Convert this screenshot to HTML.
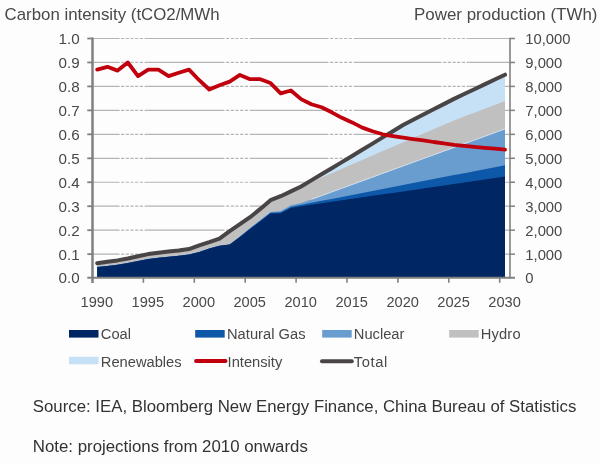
<!DOCTYPE html>
<html lang="en"><head><meta charset="utf-8"><title>Carbon intensity and power production</title>
<style>html,body{margin:0;padding:0;background:#fdfdfd}svg{display:block}</style></head>
<body>
<svg width="600" height="464" viewBox="0 0 600 464">
<defs><filter id="soft" x="0" y="0" width="600" height="464" filterUnits="userSpaceOnUse"><feGaussianBlur stdDeviation="0.45"/></filter></defs>
<rect width="600" height="464" fill="#fdfdfd"/>
<g filter="url(#soft)">
<line x1="93" x2="510" y1="254.14" y2="254.14" stroke="#b4b4b4" stroke-width="1.2" stroke-dasharray="26.5 1.6 3.1 1.6 3.1 1.6 3.1 1.6 3.1 1.6 3.1 1.6 79.9 1.6 3.1 1.6 3.1 1.6 3.1 1.6 3.1 1.6 3.1 1.6 78.9 1.6 3.1 1.6 3.1 1.6 3.1 1.6 3.1 1.6 3.1 1.6 87.9 1.6 3.1 1.6 3.1 1.6 3.1 1.6 3.1 1.6 3.1 1.6 43.4 0.0"/>
<line x1="93" x2="510" y1="230.18" y2="230.18" stroke="#b4b4b4" stroke-width="1.2" stroke-dasharray="26.5 1.6 3.1 1.6 3.1 1.6 3.1 1.6 3.1 1.6 3.1 1.6 79.9 1.6 3.1 1.6 3.1 1.6 3.1 1.6 3.1 1.6 3.1 1.6 78.9 1.6 3.1 1.6 3.1 1.6 3.1 1.6 3.1 1.6 3.1 1.6 87.9 1.6 3.1 1.6 3.1 1.6 3.1 1.6 3.1 1.6 3.1 1.6 43.4 0.0"/>
<line x1="93" x2="510" y1="206.22" y2="206.22" stroke="#b4b4b4" stroke-width="1.2" stroke-dasharray="26.5 1.6 3.1 1.6 3.1 1.6 3.1 1.6 3.1 1.6 3.1 1.6 79.9 1.6 3.1 1.6 3.1 1.6 3.1 1.6 3.1 1.6 3.1 1.6 78.9 1.6 3.1 1.6 3.1 1.6 3.1 1.6 3.1 1.6 3.1 1.6 87.9 1.6 3.1 1.6 3.1 1.6 3.1 1.6 3.1 1.6 3.1 1.6 43.4 0.0"/>
<line x1="93" x2="510" y1="182.26" y2="182.26" stroke="#b4b4b4" stroke-width="1.2" stroke-dasharray="26.5 1.6 3.1 1.6 3.1 1.6 3.1 1.6 3.1 1.6 3.1 1.6 79.9 1.6 3.1 1.6 3.1 1.6 3.1 1.6 3.1 1.6 3.1 1.6 78.9 1.6 3.1 1.6 3.1 1.6 3.1 1.6 3.1 1.6 3.1 1.6 87.9 1.6 3.1 1.6 3.1 1.6 3.1 1.6 3.1 1.6 3.1 1.6 43.4 0.0"/>
<line x1="93" x2="510" y1="158.30" y2="158.30" stroke="#b4b4b4" stroke-width="1.2" stroke-dasharray="26.5 1.6 3.1 1.6 3.1 1.6 3.1 1.6 3.1 1.6 3.1 1.6 79.9 1.6 3.1 1.6 3.1 1.6 3.1 1.6 3.1 1.6 3.1 1.6 78.9 1.6 3.1 1.6 3.1 1.6 3.1 1.6 3.1 1.6 3.1 1.6 87.9 1.6 3.1 1.6 3.1 1.6 3.1 1.6 3.1 1.6 3.1 1.6 43.4 0.0"/>
<line x1="93" x2="510" y1="134.34" y2="134.34" stroke="#b4b4b4" stroke-width="1.2" stroke-dasharray="26.5 1.6 3.1 1.6 3.1 1.6 3.1 1.6 3.1 1.6 3.1 1.6 79.9 1.6 3.1 1.6 3.1 1.6 3.1 1.6 3.1 1.6 3.1 1.6 78.9 1.6 3.1 1.6 3.1 1.6 3.1 1.6 3.1 1.6 3.1 1.6 87.9 1.6 3.1 1.6 3.1 1.6 3.1 1.6 3.1 1.6 3.1 1.6 43.4 0.0"/>
<line x1="93" x2="510" y1="110.38" y2="110.38" stroke="#b4b4b4" stroke-width="1.2" stroke-dasharray="26.5 1.6 3.1 1.6 3.1 1.6 3.1 1.6 3.1 1.6 3.1 1.6 79.9 1.6 3.1 1.6 3.1 1.6 3.1 1.6 3.1 1.6 3.1 1.6 78.9 1.6 3.1 1.6 3.1 1.6 3.1 1.6 3.1 1.6 3.1 1.6 87.9 1.6 3.1 1.6 3.1 1.6 3.1 1.6 3.1 1.6 3.1 1.6 43.4 0.0"/>
<line x1="93" x2="510" y1="86.42" y2="86.42" stroke="#b4b4b4" stroke-width="1.2" stroke-dasharray="26.5 1.6 3.1 1.6 3.1 1.6 3.1 1.6 3.1 1.6 3.1 1.6 79.9 1.6 3.1 1.6 3.1 1.6 3.1 1.6 3.1 1.6 3.1 1.6 78.9 1.6 3.1 1.6 3.1 1.6 3.1 1.6 3.1 1.6 3.1 1.6 87.9 1.6 3.1 1.6 3.1 1.6 3.1 1.6 3.1 1.6 3.1 1.6 43.4 0.0"/>
<line x1="93" x2="510" y1="62.46" y2="62.46" stroke="#b4b4b4" stroke-width="1.2" stroke-dasharray="26.5 1.6 3.1 1.6 3.1 1.6 3.1 1.6 3.1 1.6 3.1 1.6 79.9 1.6 3.1 1.6 3.1 1.6 3.1 1.6 3.1 1.6 3.1 1.6 78.9 1.6 3.1 1.6 3.1 1.6 3.1 1.6 3.1 1.6 3.1 1.6 87.9 1.6 3.1 1.6 3.1 1.6 3.1 1.6 3.1 1.6 3.1 1.6 43.4 0.0"/>
<line x1="93" x2="510" y1="38.50" y2="38.50" stroke="#b4b4b4" stroke-width="1.2" stroke-dasharray="26.5 1.6 3.1 1.6 3.1 1.6 3.1 1.6 3.1 1.6 3.1 1.6 79.9 1.6 3.1 1.6 3.1 1.6 3.1 1.6 3.1 1.6 3.1 1.6 78.9 1.6 3.1 1.6 3.1 1.6 3.1 1.6 3.1 1.6 3.1 1.6 87.9 1.6 3.1 1.6 3.1 1.6 3.1 1.6 3.1 1.6 3.1 1.6 43.4 0.0"/>
<path d="M97.2,278.1 L97.2,263.2 L107.4,261.8 L117.6,260.4 L127.8,258.5 L138.0,256.3 L148.2,254.1 L158.4,252.7 L168.6,251.5 L178.8,250.5 L189.0,249.1 L199.2,245.3 L209.3,242.2 L219.5,238.6 L229.7,231.1 L239.9,224.2 L250.1,217.2 L260.3,208.9 L270.5,200.2 L280.7,196.2 L290.9,191.4 L301.1,186.5 L311.3,180.4 L321.5,174.3 L331.7,168.2 L341.9,162.1 L352.1,156.0 L362.3,149.8 L372.5,143.6 L382.7,137.4 L392.9,131.2 L403.1,125.0 L413.2,119.8 L423.4,114.5 L433.6,109.3 L443.8,104.1 L454.0,98.9 L464.2,94.0 L474.4,89.2 L484.6,84.4 L494.8,79.5 L505.0,74.7 L505.0,278.1Z" fill="#c6e0f5"/>
<path d="M97.2,278.1 L97.2,263.2 L107.4,261.8 L117.6,260.4 L127.8,258.5 L138.0,256.3 L148.2,254.1 L158.4,252.7 L168.6,251.5 L178.8,250.5 L189.0,249.1 L199.2,245.3 L209.3,242.2 L219.5,238.6 L229.7,231.1 L239.9,224.2 L250.1,217.2 L260.3,208.9 L270.5,200.2 L280.7,196.2 L290.9,191.4 L301.1,186.5 L311.3,182.0 L321.5,177.6 L331.7,173.2 L341.9,168.7 L352.1,164.3 L362.3,159.9 L372.5,155.5 L382.7,151.1 L392.9,146.7 L403.1,142.2 L413.2,137.9 L423.4,133.5 L433.6,129.2 L443.8,124.8 L454.0,120.4 L464.2,116.6 L474.4,112.7 L484.6,108.8 L494.8,104.9 L505.0,101.0 L505.0,278.1Z" fill="#c0c0c0"/>
<path d="M97.2,278.1 L97.2,267.1 L107.4,265.9 L117.6,264.7 L127.8,263.0 L138.0,261.1 L148.2,258.9 L158.4,257.7 L168.6,256.8 L178.8,255.8 L189.0,254.6 L199.2,252.0 L209.3,248.4 L219.5,245.8 L229.7,244.6 L239.9,236.4 L250.1,228.1 L260.3,220.0 L270.5,211.9 L280.7,211.0 L290.9,205.2 L301.1,203.1 L311.3,199.4 L321.5,195.7 L331.7,192.0 L341.9,188.3 L352.1,184.6 L362.3,180.9 L372.5,177.2 L382.7,173.4 L392.9,169.7 L403.1,166.0 L413.2,162.3 L423.4,158.6 L433.6,154.9 L443.8,151.2 L454.0,147.5 L464.2,143.8 L474.4,140.1 L484.6,136.4 L494.8,132.7 L505.0,128.9 L505.0,278.1Z" fill="#6a9dcf"/>
<path d="M311.3,199.4 L321.5,195.7 L331.7,192.0 L341.9,188.3 L352.1,184.6 L362.3,180.9 L372.5,177.2 L382.7,173.4 L392.9,169.7 L403.1,166.0 L413.2,162.3 L423.4,158.6 L433.6,154.9 L443.8,151.2 L454.0,147.5 L464.2,143.8 L474.4,140.1 L484.6,136.4 L494.8,132.7 L505.0,128.9" fill="none" stroke="#eef3f8" stroke-width="0.7"/>
<path d="M97.2,278.1 L97.2,267.1 L107.4,265.9 L117.6,264.7 L127.8,263.0 L138.0,261.1 L148.2,258.9 L158.4,257.7 L168.6,256.8 L178.8,255.8 L189.0,254.6 L199.2,252.0 L209.3,248.4 L219.5,245.8 L229.7,244.6 L239.9,236.7 L250.1,228.6 L260.3,220.7 L270.5,212.8 L280.7,212.2 L290.9,206.7 L301.1,204.8 L311.3,202.8 L321.5,200.8 L331.7,198.9 L341.9,196.9 L352.1,194.9 L362.3,192.9 L372.5,191.0 L382.7,189.0 L392.9,187.0 L403.1,185.0 L413.2,183.0 L423.4,181.1 L433.6,179.1 L443.8,177.1 L454.0,175.1 L464.2,173.2 L474.4,171.2 L484.6,169.2 L494.8,167.2 L505.0,165.2 L505.0,278.1Z" fill="#0d59a9"/>
<path d="M97.2,278.1 L97.2,267.1 L107.4,265.9 L117.6,264.7 L127.8,263.0 L138.0,261.1 L148.2,258.9 L158.4,257.7 L168.6,256.8 L178.8,255.8 L189.0,254.6 L199.2,252.0 L209.3,248.4 L219.5,245.8 L229.7,244.6 L239.9,236.9 L250.1,229.0 L260.3,221.3 L270.5,213.6 L280.7,213.2 L290.9,207.9 L301.1,206.2 L311.3,204.7 L321.5,203.2 L331.7,201.8 L341.9,200.3 L352.1,198.8 L362.3,197.3 L372.5,195.8 L382.7,194.3 L392.9,192.9 L403.1,191.4 L413.2,189.9 L423.4,188.4 L433.6,186.9 L443.8,185.4 L454.0,183.9 L464.2,182.5 L474.4,181.0 L484.6,179.5 L494.8,178.0 L505.0,176.5 L505.0,278.1Z" fill="#002664"/>
<line x1="92.5" x2="92.5" y1="37.6" y2="283" stroke="#808080" stroke-width="2.5"/>
<line x1="510" x2="510" y1="37.8" y2="278.6" stroke="#808080" stroke-width="1.6"/>
<line x1="87.3" x2="515" y1="277.7" y2="277.7" stroke="#808080" stroke-width="2.1"/>
<line x1="87.3" x2="93" y1="254.14" y2="254.14" stroke="#808080" stroke-width="1.8"/>
<line x1="510" x2="515" y1="254.14" y2="254.14" stroke="#808080" stroke-width="1.5"/>
<line x1="87.3" x2="93" y1="230.18" y2="230.18" stroke="#808080" stroke-width="1.8"/>
<line x1="510" x2="515" y1="230.18" y2="230.18" stroke="#808080" stroke-width="1.5"/>
<line x1="87.3" x2="93" y1="206.22" y2="206.22" stroke="#808080" stroke-width="1.8"/>
<line x1="510" x2="515" y1="206.22" y2="206.22" stroke="#808080" stroke-width="1.5"/>
<line x1="87.3" x2="93" y1="182.26" y2="182.26" stroke="#808080" stroke-width="1.8"/>
<line x1="510" x2="515" y1="182.26" y2="182.26" stroke="#808080" stroke-width="1.5"/>
<line x1="87.3" x2="93" y1="158.30" y2="158.30" stroke="#808080" stroke-width="1.8"/>
<line x1="510" x2="515" y1="158.30" y2="158.30" stroke="#808080" stroke-width="1.5"/>
<line x1="87.3" x2="93" y1="134.34" y2="134.34" stroke="#808080" stroke-width="1.8"/>
<line x1="510" x2="515" y1="134.34" y2="134.34" stroke="#808080" stroke-width="1.5"/>
<line x1="87.3" x2="93" y1="110.38" y2="110.38" stroke="#808080" stroke-width="1.8"/>
<line x1="510" x2="515" y1="110.38" y2="110.38" stroke="#808080" stroke-width="1.5"/>
<line x1="87.3" x2="93" y1="86.42" y2="86.42" stroke="#808080" stroke-width="1.8"/>
<line x1="510" x2="515" y1="86.42" y2="86.42" stroke="#808080" stroke-width="1.5"/>
<line x1="87.3" x2="93" y1="62.46" y2="62.46" stroke="#808080" stroke-width="1.8"/>
<line x1="510" x2="515" y1="62.46" y2="62.46" stroke="#808080" stroke-width="1.5"/>
<line x1="87.3" x2="93" y1="38.50" y2="38.50" stroke="#808080" stroke-width="1.8"/>
<line x1="510" x2="515" y1="38.50" y2="38.50" stroke="#808080" stroke-width="1.5"/>
<line x1="143.4" x2="143.4" y1="278.1" y2="282.8" stroke="#808080" stroke-width="1.6"/>
<line x1="194.3" x2="194.3" y1="278.1" y2="282.8" stroke="#808080" stroke-width="1.6"/>
<line x1="245.2" x2="245.2" y1="278.1" y2="282.8" stroke="#808080" stroke-width="1.6"/>
<line x1="296.1" x2="296.1" y1="278.1" y2="282.8" stroke="#808080" stroke-width="1.6"/>
<line x1="347.0" x2="347.0" y1="278.1" y2="282.8" stroke="#808080" stroke-width="1.6"/>
<line x1="397.9" x2="397.9" y1="278.1" y2="282.8" stroke="#808080" stroke-width="1.6"/>
<line x1="448.8" x2="448.8" y1="278.1" y2="282.8" stroke="#808080" stroke-width="1.6"/>
<line x1="499.7" x2="499.7" y1="278.1" y2="282.8" stroke="#808080" stroke-width="1.6"/>
<path d="M97.2,263.2 L107.4,261.8 L117.6,260.4 L127.8,258.5 L138.0,256.3 L148.2,254.1 L158.4,252.7 L168.6,251.5 L178.8,250.5 L189.0,249.1 L199.2,245.3 L209.3,242.2 L219.5,238.6 L229.7,231.1 L239.9,224.2 L250.1,217.2 L260.3,208.9 L270.5,200.2 L280.7,196.2 L290.9,191.4 L301.1,186.5 L311.3,180.4 L321.5,174.3 L331.7,168.2 L341.9,162.1 L352.1,156.0 L362.3,149.8 L372.5,143.6 L382.7,137.4 L392.9,131.2 L403.1,125.0 L413.2,119.8 L423.4,114.5 L433.6,109.3 L443.8,104.1 L454.0,98.9 L464.2,94.0 L474.4,89.2 L484.6,84.4 L494.8,79.5 L505.0,74.7" fill="none" stroke="#484446" stroke-width="4.0" stroke-linecap="round" stroke-linejoin="round"/>
<path d="M97.2,69.6 L107.4,66.8 L117.6,70.6 L127.8,62.5 L138.0,76.1 L148.2,69.6 L158.4,69.6 L168.6,76.1 L178.8,72.8 L189.0,69.6 L199.2,80.2 L209.3,89.5 L219.5,85.2 L229.7,81.6 L239.9,74.9 L250.1,79.2 L260.3,79.2 L270.5,83.1 L280.7,93.4 L290.9,90.5 L301.1,99.1 L311.3,104.2 L321.5,107.3 L331.7,112.3 L341.9,117.8 L352.1,122.4 L362.3,127.6 L372.5,131.3 L382.7,134.3 L392.9,136.1 L403.1,137.7 L413.2,139.1 L423.4,140.3 L433.6,142.0 L443.8,143.4 L454.0,144.9 L464.2,145.8 L474.4,146.8 L484.6,147.8 L494.8,148.7 L505.0,149.7" fill="none" stroke="#c0000c" stroke-width="3.8" stroke-linecap="round" stroke-linejoin="round"/>
<g font-family="&apos;Liberation Sans&apos;, sans-serif" fill="#484848">
<text x="4.6" y="20" font-size="15.7" textLength="215" lengthAdjust="spacingAndGlyphs">Carbon intensity (tCO2/MWh</text>
<text x="414" y="20" font-size="15.7" textLength="183.5" lengthAdjust="spacingAndGlyphs">Power production (TWh)</text>
<text x="79.6" y="283.0" font-size="15.2" text-anchor="end">0.0</text>
<text x="525.3" y="283.0" font-size="14.8">0</text>
<text x="79.6" y="260.0" font-size="15.2" text-anchor="end">0.1</text>
<text x="525.3" y="260.0" font-size="14.8">1,000</text>
<text x="79.6" y="236.0" font-size="15.2" text-anchor="end">0.2</text>
<text x="525.3" y="236.0" font-size="14.8">2,000</text>
<text x="79.6" y="212.0" font-size="15.2" text-anchor="end">0.3</text>
<text x="525.3" y="212.0" font-size="14.8">3,000</text>
<text x="79.6" y="188.0" font-size="15.2" text-anchor="end">0.4</text>
<text x="525.3" y="188.0" font-size="14.8">4,000</text>
<text x="79.6" y="164.0" font-size="15.2" text-anchor="end">0.5</text>
<text x="525.3" y="164.0" font-size="14.8">5,000</text>
<text x="79.6" y="140.0" font-size="15.2" text-anchor="end">0.6</text>
<text x="525.3" y="140.0" font-size="14.8">6,000</text>
<text x="79.6" y="116.0" font-size="15.2" text-anchor="end">0.7</text>
<text x="525.3" y="116.0" font-size="14.8">7,000</text>
<text x="79.6" y="92.0" font-size="15.2" text-anchor="end">0.8</text>
<text x="525.3" y="92.0" font-size="14.8">8,000</text>
<text x="79.6" y="68.0" font-size="15.2" text-anchor="end">0.9</text>
<text x="525.3" y="68.0" font-size="14.8">9,000</text>
<text x="79.6" y="44.0" font-size="15.2" text-anchor="end">1.0</text>
<text x="525.3" y="44.0" font-size="14.8">10,000</text>
<text x="96.8" y="307" font-size="14.6" text-anchor="middle">1990</text>
<text x="147.8" y="307" font-size="14.6" text-anchor="middle">1995</text>
<text x="198.8" y="307" font-size="14.6" text-anchor="middle">2000</text>
<text x="249.7" y="307" font-size="14.6" text-anchor="middle">2005</text>
<text x="300.7" y="307" font-size="14.6" text-anchor="middle">2010</text>
<text x="351.7" y="307" font-size="14.6" text-anchor="middle">2015</text>
<text x="402.7" y="307" font-size="14.6" text-anchor="middle">2020</text>
<text x="453.6" y="307" font-size="14.6" text-anchor="middle">2025</text>
<text x="504.6" y="307" font-size="14.6" text-anchor="middle">2030</text>
<rect x="69.0" y="330.0" width="29.5" height="7.6" fill="#002664"/>
<text x="100.8" y="338.7" font-size="14.7">Coal</text>
<rect x="195.2" y="330.0" width="29.5" height="7.6" fill="#0d59a9"/>
<text x="227.0" y="338.7" font-size="14.7" textLength="78.5" lengthAdjust="spacing">Natural Gas</text>
<rect x="322.2" y="330.0" width="29.5" height="7.6" fill="#6a9dcf"/>
<text x="353.8" y="338.7" font-size="14.7">Nuclear</text>
<rect x="449.2" y="330.0" width="29.5" height="7.6" fill="#c0c0c0"/>
<text x="480.8" y="338.7" font-size="14.7" textLength="39.8" lengthAdjust="spacing">Hydro</text>
<rect x="69.0" y="356.7" width="29.5" height="7.6" fill="#c6e0f5"/>
<text x="100.8" y="366.7" font-size="14.7">Renewables</text>
<line x1="196" x2="225.6" y1="361" y2="361" stroke="#c0000c" stroke-width="3.8" stroke-linecap="round"/>
<text x="227.6" y="366.7" font-size="14.7">Intensity</text>
<line x1="322" x2="351.8" y1="361.2" y2="361.2" stroke="#484446" stroke-width="4" stroke-linecap="round"/>
<text x="353.8" y="366.7" font-size="14.7" textLength="33.5" lengthAdjust="spacing">Total</text>
</g>
<g font-family="&apos;Liberation Sans&apos;, sans-serif" fill="#333333" font-size="15.8">
<text x="32.8" y="412" textLength="543.5" lengthAdjust="spacingAndGlyphs">Source: IEA, Bloomberg New Energy Finance, China Bureau of Statistics</text>
<text x="32.8" y="451.5" textLength="275" lengthAdjust="spacingAndGlyphs">Note: projections from 2010 onwards</text>
</g>
</g>
</svg>
</body></html>
